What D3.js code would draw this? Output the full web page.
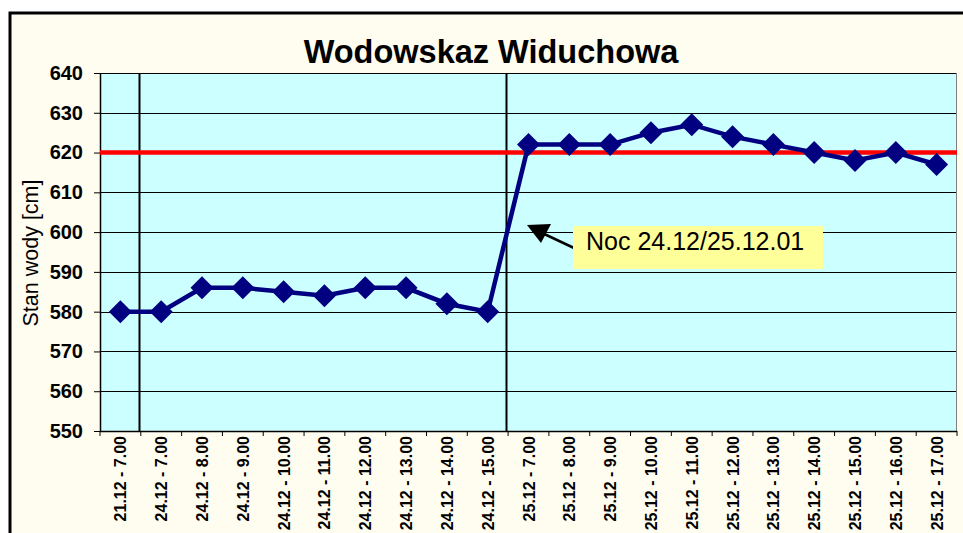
<!DOCTYPE html>
<html>
<head>
<meta charset="utf-8">
<script src="https://cdn.jsdelivr.net/npm/d3@7"></script>
<style>
  body { margin: 0; background: #ffffff; }
  svg { display: block; font-family: Arial, "Liberation Sans", sans-serif; }
</style>
</head>
<body>
<div id="chart"></div>
<script>
// data
const categories = [
  "21.12 - 7.00",
  "24.12 - 7.00", "24.12 - 8.00", "24.12 - 9.00", "24.12 - 10.00", "24.12 - 11.00",
  "24.12 - 12.00", "24.12 - 13.00", "24.12 - 14.00", "24.12 - 15.00",
  "25.12 - 7.00", "25.12 - 8.00", "25.12 - 9.00", "25.12 - 10.00", "25.12 - 11.00",
  "25.12 - 12.00", "25.12 - 13.00", "25.12 - 14.00", "25.12 - 15.00", "25.12 - 16.00",
  "25.12 - 17.00"
]
const levels = [580, 580, 586, 586, 585, 584, 586, 586, 582, 580,
                622, 622, 622, 625, 627, 624, 622, 620, 618, 620, 617]
const yTicks = [550, 560, 570, 580, 590, 600, 610, 620, 630, 640]
const alarmLevel = 620
// vertical separators drawn before these categories (band index)
const separators = [1, 10]
const title = "Wodowskaz Widuchowa"
const yTitle = "Stan wody [cm]"
const note = "Noc 24.12/25.12.01"

// layout
const W = 963, H = 533
const plot = { left: 100, right: 957, top: 73, bottom: 431 }

const svg = d3.select("#chart").append("svg")
    .attr("width", W)
    .attr("height", H)

// chart area with border
svg.append("rect")
    .attr("x", 10).attr("y", 13)
    .attr("width", W + 20).attr("height", H + 20)
    .attr("fill", "#fffcf0")
    .attr("stroke", "#000")
    .attr("stroke-width", 3)

const x = d3.scaleBand()
    .domain(categories)
    .range([plot.left, plot.right])
    .padding(0)

const y = d3.scaleLinear()
    .domain([550, 640])
    .range([plot.bottom, plot.top])

// plot background
svg.append("rect")
    .attr("x", plot.left).attr("y", plot.top)
    .attr("width", plot.right - plot.left)
    .attr("height", plot.bottom - plot.top)
    .attr("fill", "#ccffff")

// gridlines
svg.append("g")
    .selectAll("line")
    .data(yTicks)
    .join("line")
    .attr("x1", plot.left).attr("x2", plot.right)
    .attr("y1", d => Math.round(y(d)) + 0.5)
    .attr("y2", d => Math.round(y(d)) + 0.5)
    .attr("stroke", "#000")
    .attr("stroke-width", 1)

// right border
svg.append("line")
    .attr("x1", plot.right - 0.5).attr("x2", plot.right - 0.5)
    .attr("y1", plot.top).attr("y2", plot.bottom)
    .attr("stroke", "#808080")

// vertical separators
svg.append("g")
    .selectAll("line")
    .data(separators)
    .join("line")
    .attr("x1", d => Math.round(x(categories[d])) - 1.5)
    .attr("x2", d => Math.round(x(categories[d])) - 1.5)
    .attr("y1", plot.top).attr("y2", plot.bottom)
    .attr("stroke", "#000")
    .attr("stroke-width", 2)

// y axis
const yAxis = svg.append("g")
    .attr("transform", `translate(${plot.left},0)`)
    .call(d3.axisLeft(y).tickValues(yTicks).tickSize(6).tickSizeOuter(0).tickPadding(11))
yAxis.select(".domain").attr("stroke", "#000").attr("stroke-width", 1.5)
yAxis.selectAll(".tick line").attr("stroke", "#000")
yAxis.selectAll("text")
    .attr("font-size", 20)
    .attr("font-weight", "bold")
    .attr("fill", "#000")
    .attr("font-family", "Arial, 'Liberation Sans', sans-serif")

// x axis: ticks at band boundaries
const xAxis = svg.append("g")
xAxis.append("line")
    .attr("x1", plot.left).attr("x2", plot.right)
    .attr("y1", plot.bottom + 0.5).attr("y2", plot.bottom + 0.5)
    .attr("stroke", "#000").attr("stroke-width", 1.5)
xAxis.selectAll("line.tk")
    .data(categories.concat([null]))
    .join("line")
    .attr("class", "tk")
    .attr("x1", (d, i) => plot.left + i * x.step())
    .attr("x2", (d, i) => plot.left + i * x.step())
    .attr("y1", plot.bottom).attr("y2", plot.bottom + 5)
    .attr("stroke", "#000")
xAxis.selectAll("text")
    .data(categories)
    .join("text")
    .attr("transform", d => `translate(${x(d) + x.bandwidth() / 2 + 6},${plot.bottom + 5}) rotate(-90)`)
    .attr("text-anchor", "end")
    .attr("font-size", 16)
    .attr("font-weight", "bold")
    .attr("fill", "#000")
    .text(d => d)

// alarm level line
svg.append("line")
    .attr("x1", plot.left).attr("x2", plot.right)
    .attr("y1", y(alarmLevel)).attr("y2", y(alarmLevel))
    .attr("stroke", "#ff0000")
    .attr("stroke-width", 4.5)

// series line
const line = d3.line()
    .x((d, i) => x(categories[i]) + x.bandwidth() / 2)
    .y(d => y(d))

svg.append("path")
    .datum(levels)
    .attr("d", line)
    .attr("fill", "none")
    .attr("stroke", "#000080")
    .attr("stroke-width", 4.5)

// diamond markers
const m = 11.5
svg.append("g")
    .selectAll("path")
    .data(levels)
    .join("path")
    .attr("transform", (d, i) => `translate(${x(categories[i]) + x.bandwidth() / 2},${y(d)})`)
    .attr("d", `M0,${-m}L${m},0L0,${m}L${-m},0Z`)
    .attr("fill", "#000080")

// titles
svg.append("text")
    .attr("x", 491).attr("y", 63)
    .attr("text-anchor", "middle")
    .attr("font-size", 32.5)
    .attr("font-weight", "bold")
    .text(title)

svg.append("text")
    .attr("transform", `translate(38,${(plot.top + plot.bottom) / 2 + 1}) rotate(-90)`)
    .attr("text-anchor", "middle")
    .attr("font-size", 21.5)
    .text(yTitle)

// annotation
const ann = svg.append("g")
ann.append("line")
    .attr("x1", 574).attr("y1", 248)
    .attr("x2", 540).attr("y2", 232)
    .attr("stroke", "#000").attr("stroke-width", 2.5)
ann.append("path")
    .attr("d", "M527,225L551,224L541,243Z")
    .attr("fill", "#000")
ann.append("rect")
    .attr("x", 573).attr("y", 226)
    .attr("width", 250).attr("height", 43)
    .attr("fill", "#ffff99")
ann.append("text")
    .attr("x", 586).attr("y", 250)
    .attr("font-size", 25)
    .attr("fill", "#000")
    .text(note)
</script>
</body>
</html>
